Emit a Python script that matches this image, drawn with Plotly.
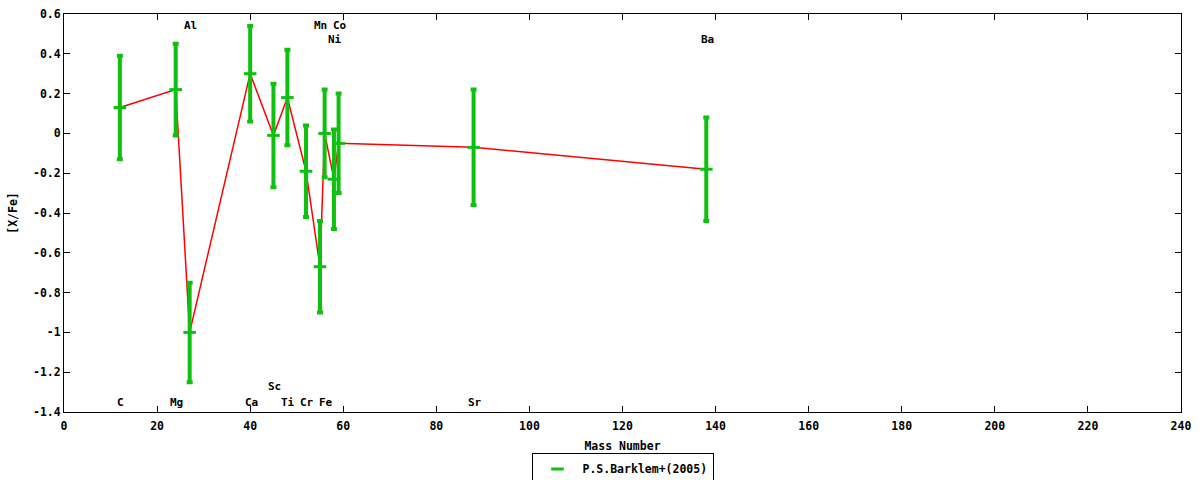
import plotly.graph_objects as go

# Barklem et al. (2005) abundance ratios vs mass number
elements = ['C', 'Mg', 'Al', 'Ca', 'Sc', 'Ti', 'Cr', 'Mn', 'Fe', 'Ni', 'Co', 'Sr', 'Ba']
mass = [12, 24, 27, 40, 45, 48, 52, 55, 56, 58, 59, 88, 138]
x_fe = [0.13, 0.22, -1.00, 0.30, -0.01, 0.18, -0.19, -0.67, 0.00, -0.23, -0.05, -0.07, -0.18]
err = [0.26, 0.23, 0.25, 0.24, 0.26, 0.24, 0.23, 0.23, 0.22, 0.25, 0.25, 0.29, 0.26]

# element label heights (as placed in the picture)
label_y = [-1.35, -1.35, 0.54, -1.35, -1.27, -1.35, -1.35, 0.54, -1.35, 0.47, 0.54, -1.35, 0.47]

y_ticks = [0.6, 0.4, 0.2, 0, -0.2, -0.4, -0.6, -0.8, -1, -1.2, -1.4]
y_tick_labels = ['0.6', '0.4', '0.2', '0', '-0.2', '-0.4', '-0.6', '-0.8', '-1', '-1.2', '-1.4']

green = '#10c010'
font = dict(family='DejaVu Sans Mono', size=11.5, color='black', weight='bold')

fig = go.Figure()

fig.add_trace(go.Scatter(x=mass, y=x_fe, mode='lines',
                         line=dict(color='red', width=1.5),
                         showlegend=False, hoverinfo='skip'))

fig.add_trace(go.Scatter(x=mass, y=x_fe, mode='markers', name='P.S.Barklem+(2005)',
                         marker=dict(symbol='line-ew', size=9, color=green,
                                     line=dict(color=green, width=3)),
                         error_y=dict(type='data', array=err, visible=True,
                                      color=green, thickness=4, width=3)))

for el, m, ly in zip(elements, mass, label_y):
    fig.add_annotation(x=m, y=ly, text=el, showarrow=False, xshift=1,
                       font=dict(family='DejaVu Sans Mono', size=11, color='black', weight='bold'),
                       xanchor='center', yanchor='middle')

fig.update_layout(
    width=1200, height=480,
    paper_bgcolor='white', plot_bgcolor='white',
    margin=dict(l=64, r=19, t=14, b=68, autoexpand=False),
    font=font,
    showlegend=True,
    legend=dict(orientation='h', x=0.5, xanchor='center', y=-0.143, yanchor='middle',
                bordercolor='black', borderwidth=1, font=font,
                itemwidth=40),
    xaxis=dict(range=[0, 240], dtick=20, tick0=0, showgrid=False, zeroline=False,
               showline=True, linecolor='black', linewidth=1, mirror='ticks',
               ticks='inside', ticklen=6, tickcolor='black', automargin=False,
               ticklabelstandoff=3,
               title=dict(text='Mass Number', standoff=10, font=font),
               tickfont=font),
    yaxis=dict(range=[-1.4, 0.6], tickvals=y_ticks, ticktext=y_tick_labels,
               showgrid=False, zeroline=False,
               showline=True, linecolor='black', linewidth=1, mirror='ticks',
               ticks='inside', ticklen=6, tickcolor='black', automargin=False,
               title=dict(text='[X/Fe]', standoff=12, font=font),
               tickfont=font),
)

fig.write_html('out.html', config={'displayModeBar': False},
               post_script="document.body.style.margin='0';")
